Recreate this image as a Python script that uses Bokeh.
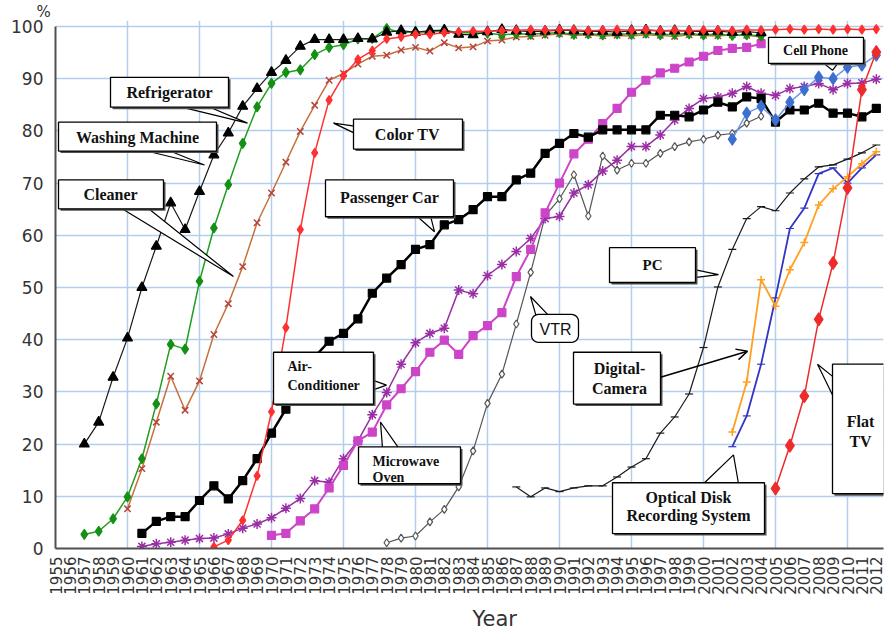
import numpy as np
from bokeh.plotting import figure
from bokeh.models import Range1d, FixedTicker, Arrow, OpenHead, Title
from bokeh.core.properties import value
from bokeh.embed import file_html
from bokeh.resources import INLINE

# ---------------- data (diffusion rate, %) ----------------
tick_years = list(range(1955, 2013))

wm_years = list(range(1957, 2005))
washing_machine = [20.0, 24.2, 32.8, 40.3, 50.0, 57.9, 66.2, 61.1, 68.4, 75.4,
                   79.6, 84.7, 88.1, 91.2, 93.5, 96.2, 97.5, 97.5, 97.5, 97.7,
                   97.6, 98.9, 99.2, 98.9, 99.2, 99.3, 98.5, 98.4,
                   99.0, 99.4, 99.2, 99.0, 99.1, 99.3, 99.2, 99.0, 99.1, 98.9,
                   99.2, 99.3, 99.1, 99.2, 99.1, 99.0, 99.1, 98.9, 99.0, 98.8]

rf_years = list(range(1957, 2005))
refrigerator = [2.7, 3.3, 5.7, 9.9, 17.2, 27.7, 39.1, 38.2, 51.2, 61.4,
                69.7, 77.6, 84.6, 89.1, 91.2, 91.7, 94.6, 96.0, 96.5, 97.6,
                97.7, 99.6, 98.8, 99.0, 98.9, 99.3, 98.8, 98.8,
                98.7, 98.4, 98.6, 98.5, 98.7, 98.8, 98.5, 98.6, 98.4, 98.6,
                98.5, 98.7, 98.4, 98.5, 98.6, 98.4, 98.5, 98.3, 98.4, 98.2]

cl_years = list(range(1960, 2005))
cleaner = [7.6, 15.3, 24.2, 33.0, 26.5, 32.1, 41.0, 46.9, 54.0, 62.4,
           68.1, 74.0, 79.9, 84.9, 89.7, 91.0, 92.8, 94.3, 94.5, 95.5,
           96.0, 95.3, 96.9, 95.9, 96.1,
           97.2, 97.4, 98.0, 98.1, 98.3, 98.6, 98.3, 98.4, 98.2, 98.3,
           98.2, 98.4, 98.3, 98.1, 98.4, 98.3, 98.2, 98.4, 98.3, 98.0]

ctv_years = list(range(1966, 2013))
color_tv = [0.3, 1.6, 5.4, 13.9, 26.2, 42.3, 61.1, 75.8, 85.9, 90.6,
            93.7, 95.4, 97.6, 98.0, 98.5, 98.5, 98.8, 99.0, 99.1,
            99.1, 99.2, 99.3, 99.4, 99.3, 99.4, 99.4, 99.2, 99.3, 99.4,
            99.3, 99.4, 99.2, 99.3, 99.2, 99.3, 99.3, 99.2, 99.4, 99.3,
            99.4, 99.5, 99.4, 99.5, 99.4, 99.5, 99.4, 99.5]

car_years = list(range(1961, 2013))
passenger_car = [2.9, 5.2, 6.1, 6.1, 9.2, 12.0, 9.5, 13.0, 17.2, 22.1,
                 26.7, 30.1, 36.7, 39.7, 41.2, 44.0, 48.9, 51.8, 54.4, 57.3,
                 58.2, 62.0, 63.0, 64.9, 67.4, 67.4, 70.6, 71.9, 75.7, 77.6,
                 79.5, 78.8, 80.2, 80.2, 80.2, 80.2, 83.0, 83.0, 82.7, 84.0,
                 85.5, 84.6, 86.5, 86.2, 81.7, 84.0, 84.0, 85.3, 83.4, 83.4,
                 82.7, 84.3]

mw_years = list(range(1970, 2005))
microwave = [2.5, 2.9, 5.3, 7.6, 11.6, 15.9, 20.6, 22.3, 27.5, 30.6,
             33.9, 37.6, 39.9, 37.2, 40.8, 42.7, 45.2, 52.1, 57.3, 64.3,
             70.0, 75.6, 78.4, 81.4, 84.3, 87.4, 89.7, 91.1, 92.0, 93.2,
             94.3, 95.4, 95.8, 96.0, 96.7]

ac_years = list(range(1961, 2013))
air_conditioner = [0.4, 0.9, 1.2, 1.6, 1.9, 2.0, 2.8, 3.9, 4.7, 5.9,
                   7.7, 9.6, 13.0, 12.7, 17.2, 20.6, 25.6, 29.9, 35.3, 39.4,
                   41.2, 42.2, 49.5, 48.8, 52.3, 54.4, 56.9, 59.4, 63.2, 63.6,
                   68.1, 69.7, 72.3, 74.4, 77.0, 77.0, 79.2, 82.1, 84.3, 86.2,
                   86.5, 87.2, 88.5, 87.2, 86.8, 88.1, 88.5, 89.1, 87.9, 89.1,
                   89.2, 89.9]

vtr_years = list(range(1978, 2005))
vtr = [1.1, 2.0, 2.4, 5.1, 7.5, 11.8, 18.7, 27.8, 33.4, 43.0,
       52.9, 63.7, 67.0, 71.6, 63.7, 75.2, 72.5, 73.8, 73.8, 75.7,
       77.0, 77.9, 78.4, 79.2, 79.5, 81.5, 82.8]

pc_years = list(range(1987, 2013))
pc = [11.8, 9.9, 11.6, 10.9, 11.6, 12.0, 12.0, 13.7, 15.6, 17.2,
      22.1, 25.2, 29.6, 38.5, 50.1, 57.3, 63.2, 65.5, 64.7, 68.1,
      70.8, 73.1, 73.5, 74.6, 75.8, 77.3]

new_years = list(range(2002, 2013))
cell_phone = [78.4, 83.4, 84.7, 82.1, 85.5, 87.9, 90.3, 90.0, 92.2, 92.6, 94.5]
digital_camera = [22.3, 31.9, 51.5, 46.4, 53.4, 58.6, 65.8, 68.9, 71.2, 73.7, 76.0]
optical_disk = [19.5, 25.4, 35.3, 48.0, 61.3, 65.2, 71.8, 72.9, 70.0, 72.9, 75.4]

ftv_years = list(range(2005, 2013))
flat_tv = [11.5, 19.7, 29.2, 43.9, 54.7, 69.1, 87.9, 95.1]

# ---------------- figure ----------------
W, H = 886, 638
X_END, Y_TOP = 2012.5, 101.15
p = figure(width=W, height=H, output_backend="svg", toolbar_location=None,
           x_range=Range1d(1955, X_END), y_range=Range1d(0, Y_TOP),
           min_border_left=55, min_border_right=3, min_border_top=20,
           min_border_bottom=88, background_fill_color="white",
           border_fill_color="white")
p.outline_line_color = None

# "%" caption above the value axis
p.title.text = "%"
p.title.align = "left"
p.title.offset = -19
p.title.standoff = 0
p.title.text_font = "DejaVu Sans"
p.title.text_font_style = "normal"
p.title.text_font_size = "15px"
p.title.text_color = "#333333"

grid_col = "#b3cdee"
p.xgrid.ticker = FixedTicker(ticks=list(range(1960, 2011, 5)))
p.ygrid.ticker = FixedTicker(ticks=list(range(10, 101, 10)))
for g in (p.xgrid[0], p.ygrid[0]):
    g.grid_line_color = grid_col
    g.grid_line_width = 1.5
p.xgrid.bounds = (0, 100)

p.xaxis.ticker = FixedTicker(ticks=tick_years)
p.xaxis.major_label_orientation = np.pi / 2
p.yaxis.ticker = FixedTicker(ticks=list(range(0, 101, 10)))
p.yaxis.bounds = (0, 100)
for ax in (p.xaxis[0], p.yaxis[0]):
    ax.axis_line_color = "#505050"
    ax.axis_line_width = 2
    ax.major_tick_line_color = None
    ax.minor_tick_line_color = None
    ax.major_tick_out = 0
    ax.major_label_text_color = "#333333"
    ax.major_label_text_font = "DejaVu Sans"
p.xaxis.major_label_text_font_size = "15px"
p.xaxis.major_label_standoff = 8
p.yaxis.major_label_text_font_size = "17px"
p.yaxis.major_label_standoff = 12

# "Year" caption below the category axis
p.add_layout(Title(text="Year", align="left", offset=417, standoff=15,
                   text_font="DejaVu Sans", text_font_style="normal",
                   text_font_size="21px", text_color="#333333"), "below")


def series(xs, ys, color, marker, size, lw=1.5, mcolor=None, fill=None, mlw=1.2):
    p.line(xs, ys, line_color=color, line_width=lw)
    mc = mcolor or color
    p.scatter(xs, ys, marker=marker, size=size, line_color=mc,
              fill_color=fill if fill else mc, line_width=mlw)


series(pc_years, pc, "#1a1a1a", "dash", 8, lw=1.2)
series(vtr_years, vtr, "#555555", "diamond", 8, lw=1.2, fill="white")
series(new_years, optical_disk, "#3434c4", "dash", 8, lw=1.8)
series(new_years, digital_camera, "#ffa020", "cross", 8, lw=1.8, mlw=1.5)
series(ac_years, air_conditioner, "#9a2fa5", "asterisk", 10, lw=1.5, mlw=1.5)
series(mw_years, microwave, "#cc44c8", "square", 8, lw=2)
series(car_years, passenger_car, "#000000", "square", 8, lw=2.5)
series(new_years, cell_phone, "#6b96e0", "diamond", 12, lw=1.5, mcolor="#3d6fd0")
series(cl_years, cleaner, "#c8703c", "x", 9, lw=1.5, mcolor="#b5443a", mlw=1.5)
series(rf_years, refrigerator, "#1f9e1f", "diamond", 10, lw=1.5, mcolor="#149014")
series(wm_years, washing_machine, "#1a1a1a", "triangle", 10, lw=1.2, mcolor="#000000")
series(ctv_years, color_tv, "#ff3030", "diamond", 9, lw=1.5)
series(ftv_years, flat_tv, "#ee2b2b", "diamond", 13, lw=1.5)

# ---------------- callouts (layout in reference pixel space) ----------------
def dx(xpx):
    return 1955 + (xpx - 55) / 14.4


def dy(ypx):
    return (550 - ypx) / 5.24


SERIF = value("Liberation Serif")

callouts = [
    dict(box=(110, 77, 228, 107), wedge=[(177, 106), (207, 106), (247, 123)],
         lines=[("Refrigerator", 169, 92)], size="16px"),
    dict(box=(58, 122, 216, 151), wedge=[(142, 150), (167, 150), (204, 165)],
         lines=[("Washing Machine", 137, 137)], size="16px"),
    dict(box=(58, 180, 163, 209), wedge=[(120, 208), (147, 208), (233, 277)],
         lines=[("Cleaner", 110, 195)], size="16px"),
    dict(box=(353, 119, 462, 149), wedge=[(354, 126), (354, 133), (333, 123)],
         lines=[("Color TV", 407, 134)], size="16px"),
    dict(box=(325, 180, 453, 217), wedge=[(416, 216), (430, 216), (434, 232)],
         lines=[("Passenger Car", 389, 198)], size="16px"),
    dict(box=(273, 353, 373, 405), wedge=[(372, 381), (372, 391), (386, 386)],
         lines=[("Air-", 287, 367), ("Conditioner", 287, 386)], size="14px", align="left"),
    dict(box=(358, 448, 460, 485), wedge=[(382, 449), (398, 449), (380, 423)],
         lines=[("Microwave", 372, 463), ("Oven", 372, 479)], size="14px", align="left"),
    dict(box=(609, 248, 695, 283), wedge=[(694, 270), (694, 278), (718, 275)],
         lines=[("PC", 652, 265)], size="15px"),
    dict(box=(573, 353, 660, 405), wedge=None,
         lines=[("Digital-", 619, 369), ("Camera", 619, 389)], size="16px"),
    dict(box=(612, 484, 764, 535), wedge=[(703, 485), (738, 485), (733, 456)],
         lines=[("Optical Disk", 688, 499), ("Recording System", 688, 517)], size="16px"),
    dict(box=(832, 365, 905, 495), wedge=[(833, 378), (833, 398), (817, 365)],
         lines=[("Flat", 860, 423), ("TV", 860, 443)], size="16px"),
    dict(box=(768, 37, 863, 63), wedge=[(822, 62), (838, 62), (832, 70)],
         lines=[("Cell Phone", 815, 50)], size="14px"),
]

for c in callouts:
    x0, y0, x1, y1 = c["box"]
    if c["wedge"]:
        p.patch([dx(a) for a, b in c["wedge"]], [dy(b) for a, b in c["wedge"]],
                fill_color="white", line_color="black", line_width=1.2)
    p.quad(left=dx(x0 + 2), right=dx(x1 + 2), top=dy(y0 + 2), bottom=dy(y1 + 2),
           fill_color="#505050", line_color=None)
    p.quad(left=dx(x0), right=dx(x1), top=dy(y0), bottom=dy(y1),
           fill_color="white", line_color="black", line_width=1.3)
    for txt, tx, ty in c["lines"]:
        p.text(x=[dx(tx)], y=[dy(ty)], text=[txt], text_font=SERIF,
               text_font_style="bold", text_font_size=c["size"],
               text_align=c.get("align", "center"), text_baseline="middle",
               text_color="#111111")

# VTR rounded callout
def rounded_rect(x0, y0, x1, y1, r, n=8):
    pts = []
    for cx, cy, a0 in [(x1 - r, y0 + r, -90), (x1 - r, y1 - r, 0),
                       (x0 + r, y1 - r, 90), (x0 + r, y0 + r, 180)]:
        for t in np.linspace(np.radians(a0), np.radians(a0 + 90), n):
            pts.append((cx + r * np.cos(t), cy + r * np.sin(t)))
    return pts

vtr_wedge = [(536, 318), (548, 316), (530, 297)]
p.patch([dx(a) for a, b in vtr_wedge], [dy(b) for a, b in vtr_wedge],
        fill_color="white", line_color="black", line_width=1.2)
rr = rounded_rect(531, 315, 578, 343, 7)
p.patch([dx(a) for a, b in rr], [dy(b) for a, b in rr],
        fill_color="white", line_color="black", line_width=1.3)
p.text(x=[dx(555)], y=[dy(330)], text=["VTR"], text_font=value("Liberation Sans"),
       text_font_size="16px", text_align="center", text_baseline="middle",
       text_color="#111111")

# Digital camera arrow
p.add_layout(Arrow(end=OpenHead(size=11, line_width=1.5, line_color="black"),
                   x_start=dx(660), y_start=dy(378), x_end=dx(747), y_end=dy(352),
                   line_width=1.5, line_color="black"))

open("out.html", "w").write(file_html(p, INLINE))
